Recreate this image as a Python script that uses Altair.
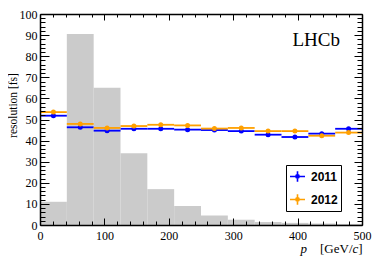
import altair as alt
import pandas as pd

# ---- data ----
bin_edges = [0, 41.667, 83.333, 125, 166.667, 208.333, 250, 291.667, 333.333, 375, 416.667, 458.333, 500]
hist_counts = [11.0, 90.5, 65.0, 34.0, 17.0, 9.0, 4.5, 2.5, 1.4, 1.0, 0.7, 0.5]
res_2011 = [51.8, 46.3, 44.7, 45.6, 45.6, 45.2, 45.0, 44.5, 42.8, 41.7, 43.3, 45.6]
res_2012 = [53.5, 47.9, 46.0, 46.9, 47.5, 47.2, 45.7, 46.0, 44.5, 44.5, 42.3, 43.8]
years = ["2011", "2012"]
year_colors = ["#0000ff", "#ffa000"]
x_major = [0, 100, 200, 300, 400, 500]
x_minor = [v for v in range(20, 500, 20) if v % 100]
y_major = list(range(0, 101, 10))
y_minor = [v for v in range(2, 100, 2) if v % 10]
y_title = "resolution [fs]"
x_title_parts = ["p", "[GeV/", "c", "]"]
x_title_styles = ["italic", "normal", "italic", "normal"]
experiment_label = "LHCb"

lo = bin_edges[:-1]
hi = bin_edges[1:]
hist = pd.DataFrame({"lo": lo, "hi": hi, "count": hist_counts, "base": [0] * len(lo)})
res = pd.DataFrame({
    "lo": lo * 2,
    "hi": hi * 2,
    "mid": [(a + b) / 2 for a, b in zip(lo, hi)] * 2,
    "value": res_2011 + res_2012,
    "year": [years[0]] * len(lo) + [years[1]] * len(lo),
})

xs = alt.Scale(domain=[0, 500], nice=False, zero=False)
ys = alt.Scale(domain=[0, 100], nice=False, zero=False)
cs = alt.Scale(domain=years, range=year_colors)
SERIF = "Liberation Serif"


def tick_axis(orient, vals, size):
    return alt.Axis(orient=orient, values=vals, labels=False, domain=False, grid=False,
                    ticks=True, tickSize=size, offset=-size, tickColor="black",
                    tickWidth=1, title=None, zindex=1)


def axis_layer(xaxis, yaxis):
    return alt.Chart(hist).mark_point(opacity=0).encode(
        x=alt.X("lo:Q", scale=xs, axis=xaxis),
        y=alt.Y("count:Q", scale=ys, axis=yaxis),
    )


hist_layer = alt.Chart(hist).mark_rect(color="#cbcbcb").encode(
    x=alt.X("lo:Q", scale=xs, axis=alt.Axis(
        orient="bottom", values=x_major, ticks=False, tickSize=0, domain=True,
        domainColor="black", domainWidth=1.5, grid=False, labelFont=SERIF,
        labelFontSize=12, labelColor="black", labelPadding=5, labelFlush=False,
        title=None, zindex=1)),
    x2="hi:Q",
    y=alt.Y("count:Q", scale=ys, axis=alt.Axis(
        orient="left", values=y_major, ticks=False, tickSize=0, domain=True,
        domainColor="black", domainWidth=1.5, grid=False, labelFont=SERIF,
        labelFontSize=12, labelColor="black", labelPadding=3, labelFlush=False,
        title=y_title, titleFont=SERIF, titleFontSize=11.5, titleFontWeight="normal",
        titleColor="black", titleAngle=270, titleX=-27, titleY=91,
        titleAlign="center", titleBaseline="middle", zindex=1)),
    y2="base:Q",
)

legend = alt.Legend(
    title=None, orient="none", legendX=246, legendY=151,
    symbolType="M-1,0H1M0,-0.7V0.7M-0.22,0A0.22,0.22 0 1 0 0.22,0A0.22,0.22 0 1 0 -0.22,0Z",
    symbolSize=225, symbolStrokeWidth=1.6,
    labelFont="Liberation Sans", labelFontWeight="bold", labelFontSize=12,
    labelColor="black", labelOffset=5, padding=3, rowPadding=6,
    strokeColor="black", fillColor="white", cornerRadius=0,
)

rule_layer = alt.Chart(res).mark_rule(strokeWidth=1.8).encode(
    x=alt.X("lo:Q", scale=xs, axis=None),
    x2="hi:Q",
    y=alt.Y("value:Q", scale=ys, axis=None),
    color=alt.Color("year:N", scale=cs, legend=legend),
)

point_layer = alt.Chart(res).mark_point(filled=True, size=25, opacity=1).encode(
    x=alt.X("mid:Q", scale=xs, axis=None),
    y=alt.Y("value:Q", scale=ys, axis=None),
    color=alt.Color("year:N", scale=cs, legend=None),
)

frame_layer = axis_layer(
    alt.Axis(orient="top", labels=False, ticks=False, domain=True, domainColor="black",
             domainWidth=1.5, grid=False, title=None, zindex=1),
    alt.Axis(orient="right", labels=False, ticks=False, domain=True, domainColor="black",
             domainWidth=1.5, grid=False, title=None, zindex=1),
)
ticks_bl_major = axis_layer(tick_axis("bottom", x_major, 7), tick_axis("left", y_major, 9))
ticks_bl_minor = axis_layer(tick_axis("bottom", x_minor, 4), tick_axis("left", y_minor, 5))
ticks_tr_major = axis_layer(tick_axis("top", x_major, 6), tick_axis("right", y_major, 8))
ticks_tr_minor = axis_layer(tick_axis("top", x_minor, 3), tick_axis("right", y_minor, 5))

lhcb = alt.Chart(pd.DataFrame({"t": [experiment_label]})).mark_text(
    align="right", baseline="alphabetic", font=SERIF, fontSize=19, color="black"
).encode(x=alt.value(300), y=alt.value(32), text="t:N")

title_x = [260.5, 280, 312.5, 318.3]
title_layers = []
for part, style, px in zip(x_title_parts, x_title_styles, title_x):
    title_layers.append(
        alt.Chart(pd.DataFrame({"t": [part]})).mark_text(
            align="left", baseline="alphabetic", font=SERIF, fontSize=13,
            fontStyle=style, color="black"
        ).encode(x=alt.value(px), y=alt.value(239), text="t:N")
    )

chart = alt.layer(
    hist_layer, frame_layer, ticks_bl_major, ticks_bl_minor, ticks_tr_major, ticks_tr_minor,
    rule_layer, point_layer, lhcb, *title_layers
).resolve_axis(x="independent", y="independent").properties(
    width=322, height=211,
    autosize=alt.AutoSizeParams(type="none"),
    padding={"left": 32, "top": 6, "right": 10, "bottom": 32},
    background="white",
).configure_view(stroke=None)

chart.save("out.html", embed_options={"renderer": "svg", "actions": False})
